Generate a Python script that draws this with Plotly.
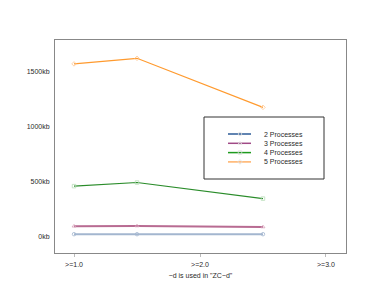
import plotly.graph_objects as go

x_vals = [1.0, 1.5, 2.5]
series_names = ["2 Processes", "3 Processes", "4 Processes", "5 Processes"]
p2 = [22, 22, 22]
p3 = [95, 97, 88]
p4 = [458, 491, 345]
p5 = [1567, 1618, 1173]
series_values = [p2, p3, p4, p5]

x_tickvals = [1.0, 2.0, 3.0]
x_ticktext = [">=1.0", ">=2.0", ">=3.0"]
y_tickvals = [0, 500, 1000, 1500]
y_ticktext = ["0kb", "500kb", "1000kb", "1500kb"]

line_colors = ["#a3b6cf", "#b86b92", "#2a8c2a", "#ff9a2e"]
marker_colors = ["#a3b6cf", "#d9a5bd", "#b8ddb8", "#ffc690"]
legend_colors = ["#2d5b97", "#a04a86", "#1e9a1e", "#ffb066"]
symbols = ["circle-open", "triangle-up-open", "square-open", "diamond-open"]
widths = [2, 2, 1.2, 1.2]

FONT = "Liberation Sans, Arial, Helvetica, sans-serif"
TXT = "#2a2a2a"

fig = go.Figure()
for name, vals, lc, mc, sym, w in zip(series_names, series_values, line_colors, marker_colors, symbols, widths):
    fig.add_trace(go.Scatter(
        x=x_vals, y=vals, mode="lines+markers", name=name, showlegend=False,
        line=dict(color=lc, width=w),
        marker=dict(symbol=sym, size=3.5, color=mc, line=dict(width=0.8, color=mc)),
    ))

# custom compact legend on an overlay axis in pixel-like units
L, R, T, B = 55, 346, 40, 253
leg_y0, leg_dy = 134, 9.3
for i, (name, lc, sym) in enumerate(zip(series_names, legend_colors, symbols)):
    yy = leg_y0 + i * leg_dy
    fig.add_trace(go.Scatter(
        x=[228, 240, 251], y=[yy, yy, yy], xaxis="x2", yaxis="y2",
        mode="lines", showlegend=False, hoverinfo="skip",
        line=dict(color=lc, width=1.5),
    ))
    fig.add_trace(go.Scatter(
        x=[240], y=[yy], xaxis="x2", yaxis="y2",
        mode="markers", showlegend=False, hoverinfo="skip",
        marker=dict(symbol=sym, size=3.5, color="#dddddd", line=dict(width=0.8, color="#dddddd")),
    ))
    fig.add_annotation(x=262, y=yy, xref="x2", yref="y2", text=name,
                       showarrow=False, xanchor="left", yanchor="middle",
                       font=dict(family=FONT, size=7, color=TXT))

fig.add_shape(type="rect", x0=204, x1=324, y0=117, y1=179, xref="x2", yref="y2",
              line=dict(color="#333333", width=1), fillcolor="rgba(0,0,0,0)")

fig.update_layout(
    width=382, height=294,
    margin=dict(l=L, r=382 - R, t=T, b=294 - B),
    paper_bgcolor="white", plot_bgcolor="white",
    font=dict(family=FONT, size=7, color=TXT),
    xaxis=dict(range=[0.849, 3.159], tickvals=x_tickvals, ticktext=x_ticktext,
               showgrid=False, zeroline=False, showline=True, mirror=True,
               linecolor="#888888", linewidth=1, ticks="outside", ticklen=3,
               tickcolor="#bbbbbb", tickfont=dict(size=7, color=TXT), ticklabelstandoff=2,
               title=dict(text='~d is used in "ZC~d"', font=dict(size=7, color=TXT), standoff=5)),
    yaxis=dict(range=[-148.6, 1784], tickvals=y_tickvals, ticktext=y_ticktext,
               showgrid=False, zeroline=False, showline=True, mirror=True,
               linecolor="#888888", linewidth=1, ticks="", ticklen=0, ticklabelstandoff=3,
               tickfont=dict(size=7, color=TXT)),
    xaxis2=dict(overlaying="x", range=[L, R], visible=False, anchor="y2"),
    yaxis2=dict(overlaying="y", range=[B, T], visible=False, anchor="x2"),
)

fig.write_html("out.html", config={"displayModeBar": False},
               post_script="document.body.style.margin='0';document.body.style.padding='0';")
